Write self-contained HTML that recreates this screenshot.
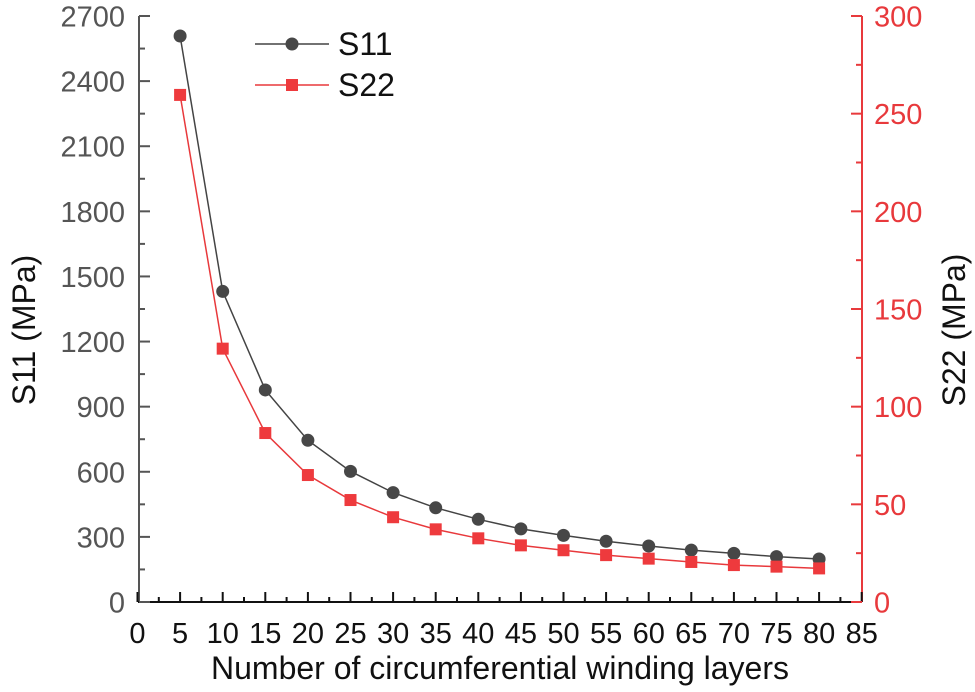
<!DOCTYPE html>
<html><head><meta charset="utf-8"><style>
body{margin:0;background:#fff;}
svg{display:block;font-family:"Liberation Sans",Arial,sans-serif;}
</style></head><body>
<svg id="chart" width="975" height="692"></svg>
<script>
const layers=[5,10,15,20,25,30,35,40,45,50,55,60,65,70,75,80];
const s11=[2608,1431,977,745,602,504,434,381,337,307,280,258,239,224,209,198];
const s22=[259.6,129.7,86.5,65,52.2,43.4,37.2,32.6,29,26.5,24,22.2,20.5,18.9,18.1,17.2];
const xTicks=[0,5,10,15,20,25,30,35,40,45,50,55,60,65,70,75,80,85];
const yLTicks=[0,300,600,900,1200,1500,1800,2100,2400,2700];
const yRTicks=[0,50,100,150,200,250,300];
const NS="http://www.w3.org/2000/svg";
const svg=document.getElementById('chart');
const X=v=>137.5+v*8.52, YL=v=>602-v*586/2700, YR=v=>602-v*586/300;
function el(t,a,p){const e=document.createElementNS(NS,t);for(const k in a)e.setAttribute(k,a[k]);(p||svg).appendChild(e);return e;}
let ax=el('line',{x1:139,y1:602,x2:139,y2:16,stroke:'#555','stroke-width':2});


ax=el('line',{x1:862,y1:602,x2:862,y2:16,stroke:'#e8393c','stroke-width':2});


ax=el('line',{x1:138,y1:602,x2:862,y2:602,stroke:'#111','stroke-width':2});


xTicks.forEach((v,i)=>{
  el('line',{x1:X(v),y1:602,x2:X(v),y2:592,stroke:'#111','stroke-width':2});
  if(i<xTicks.length-1)el('line',{x1:X(v+2.5),y1:602,x2:X(v+2.5),y2:597,stroke:'#111','stroke-width':2});
  const t=el('text',{x:X(v),y:643,'text-anchor':'middle','font-size':29,fill:'#111'});t.textContent=v;
  
  
});
yLTicks.forEach((v,i)=>{
  el('line',{x1:139,y1:YL(v),x2:150,y2:YL(v),stroke:'#555','stroke-width':2});
  if(i<yLTicks.length-1)el('line',{x1:139,y1:YL(v+150),x2:145,y2:YL(v+150),stroke:'#555','stroke-width':2});
  const t=el('text',{x:125,y:YL(v)+10.5,'text-anchor':'end','font-size':29,fill:'#555'});t.textContent=v;
  
  
});
yRTicks.forEach((v,i)=>{
  el('line',{x1:862,y1:YR(v),x2:851,y2:YR(v),stroke:'#e8393c','stroke-width':2});
  if(i<yRTicks.length-1)el('line',{x1:862,y1:YR(v+25),x2:856,y2:YR(v+25),stroke:'#e8393c','stroke-width':2});
  const t=el('text',{x:874,y:YR(v)+10.5,'font-size':29,fill:'#e8393c'});t.textContent=v;
  
  
});
let t=el('text',{x:500,y:679,'text-anchor':'middle','font-size':32,fill:'#111'});t.textContent='Number of circumferential winding layers';


t=el('text',{x:0,y:0,'text-anchor':'middle','font-size':32,fill:'#111',transform:'translate(35,330) rotate(-90)'});t.textContent='S11 (MPa)';


t=el('text',{x:0,y:0,'text-anchor':'middle','font-size':32,fill:'#111',transform:'translate(965,330) rotate(-90)'});t.textContent='S22 (MPa)';


let p=el('polyline',{points:layers.map((v,i)=>X(v)+','+YL(s11[i])).join(' '),fill:'none',stroke:'#444','stroke-width':1.5});


p=el('polyline',{points:layers.map((v,i)=>X(v)+','+YR(s22[i])).join(' '),fill:'none',stroke:'#e8393c','stroke-width':1.5});


layers.forEach((v,i)=>{
  const c=el('circle',{cx:X(v),cy:YL(s11[i]),r:6.5,fill:'#474747'});
  
  
  const r=el('rect',{x:X(v)-6,y:YR(s22[i])-6,width:12,height:12,fill:'#ee3a3d'});
  
  
});
el('line',{x1:255,y1:44,x2:329,y2:44,stroke:'#444','stroke-width':1.5});
el('circle',{cx:292,cy:44,r:6.5,fill:'#474747'});
t=el('text',{x:338,y:55,'font-size':32,fill:'#111'});t.textContent='S11';


el('line',{x1:255,y1:85,x2:329,y2:85,stroke:'#e8393c','stroke-width':1.5});
el('rect',{x:286,y:79,width:12,height:12,fill:'#ee3a3d'});
t=el('text',{x:338,y:96,'font-size':32,fill:'#111'});t.textContent='S22';


</script>
</body></html>
